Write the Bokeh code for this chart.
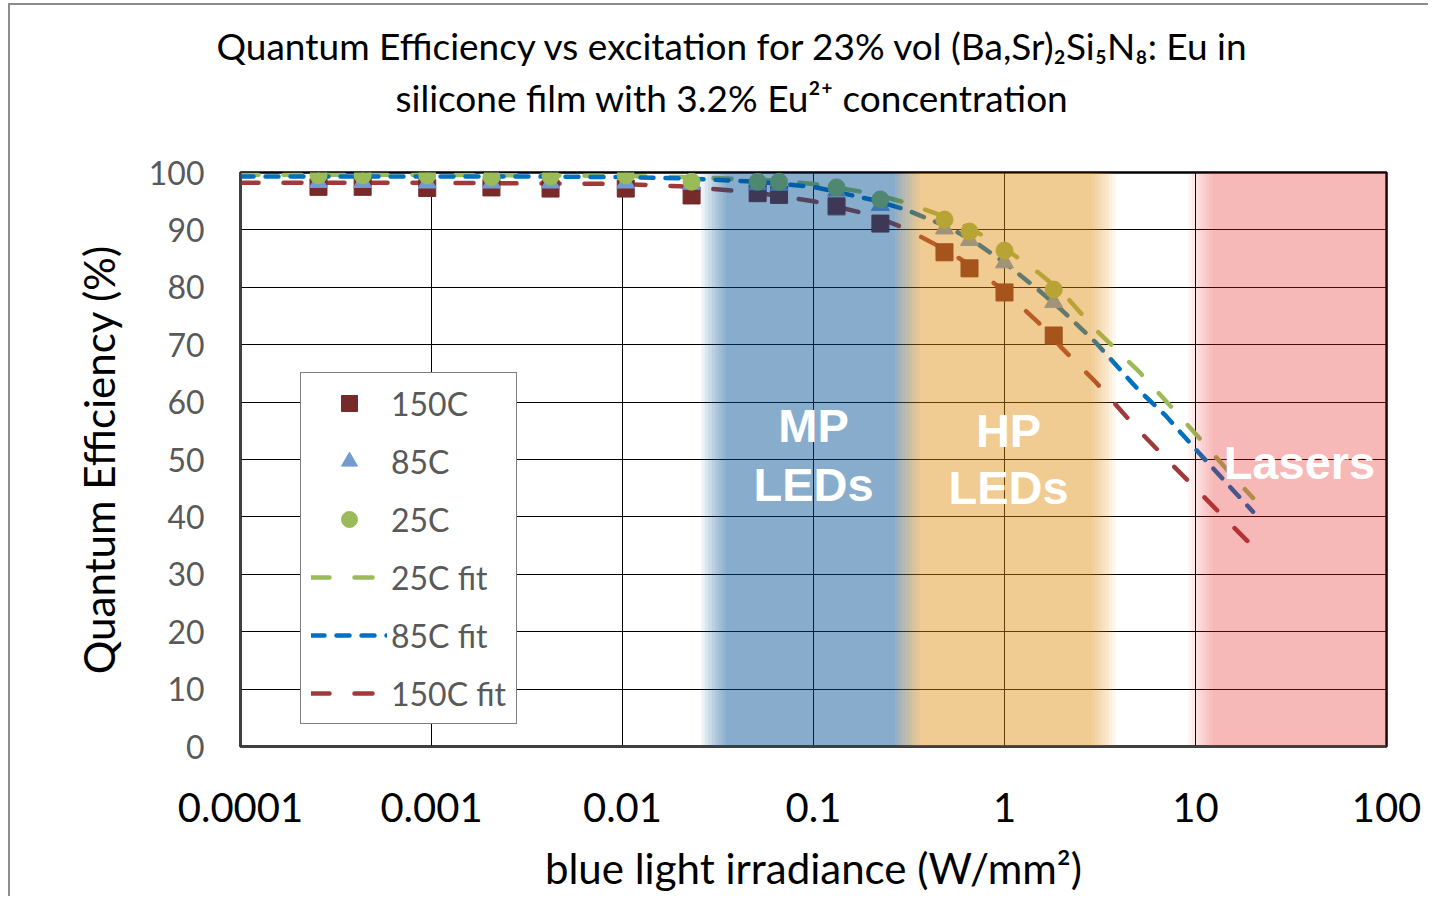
import numpy as np
from bokeh.plotting import figure
from bokeh.models import (Range1d, FixedTicker, PrintfTickFormatter, Legend,
                          LegendItem, Label, Title)
from bokeh.embed import file_html
from bokeh.resources import INLINE

# ---------------- data ----------------
irradiance = [2.56e-4, 4.36e-4, 9.5e-4, 2.06e-3, 4.2e-3, 0.0104, 0.023,
              0.051, 0.066, 0.132, 0.224, 0.485, 0.656, 1.0, 1.81]
qe_150C = [97.5, 97.5, 97.3, 97.4, 97.2, 97.2, 96.0, 96.4, 96.1, 94.1,
           91.1, 86.1, 83.3, 79.1, 71.6]
qe_85C = [98.3, 98.3, 98.2, 98.2, 98.2, 98.2, 98.0, 97.9, 97.8, 96.8,
          94.3, 90.2, 88.2, 84.3, 77.4]
qe_25C = [99.5, 99.5, 99.5, 99.2, 99.3, 99.5, 98.4, 98.4, 98.4, 97.4,
          95.3, 91.8, 89.7, 86.4, 79.6]

irradiance_fit = [1e-4, 3e-4, 1e-3, 3e-3, 0.01, 0.02, 0.05, 0.1, 0.2, 0.3,
                  0.5, 0.7, 1, 1.5, 2, 3, 5, 7, 10, 15, 20]
fit_25C = [99.6, 99.6, 99.6, 99.5, 99.4, 99.2, 98.8, 98.0, 96.4, 94.8,
           92.2, 89.8, 86.8, 82.6, 79.2, 72.6, 65.5, 60.2, 54.5, 47.8, 43.3]
fit_85C = [99.3, 99.3, 99.3, 99.3, 99.2, 99.0, 98.4, 97.5, 95.3, 93.6,
           90.6, 87.9, 84.3, 79.6, 76.0, 70.4, 62.2, 57.6, 51.8, 45.4, 40.9]
fit_150C = [98.2, 98.2, 98.2, 98.1, 98.0, 97.6, 96.5, 95.0, 92.6, 90.3,
            86.4, 83.3, 79.3, 73.9, 69.4, 63.5, 55.2, 50.2, 45.0, 39.0, 34.8]

x_ticks = [1e-4, 1e-3, 1e-2, 1e-1, 1, 10, 100]
y_ticks = [0, 10, 20, 30, 40, 50, 60, 70, 80, 90, 100]

band_names = [["MP", "LEDs"], ["HP", "LEDs"], ["Lasers"]]
band_ranges = [(0.030, 0.31), (0.31, 3.3), (10.6, 130)]

title_lines = ["Quantum Efficiency vs excitation for 23% vol (Ba,Sr)\u2082Si\u2085N\u2088: Eu in",
               "silicone film with 3.2% Eu\u00b2\u207a concentration"]

FONT = "Lato"

# ---------------- figure ----------------
p = figure(x_axis_type="log", x_range=Range1d(1e-4, 100), y_range=Range1d(0, 100),
           frame_width=1146, frame_height=574,
           min_border_left=230, min_border_right=42,
           min_border_top=167, min_border_bottom=150,
           output_backend="svg", toolbar_location=None)
p.styles = {"border-top": "2px solid #8c8c8c", "border-left": "2px solid #8c8c8c",
            "margin-left": "8px", "margin-top": "3px"}
p.background_fill_color = "white"
p.border_fill_color = "white"
p.outline_line_color = "black"
p.outline_line_width = 2.5

# grid
for g in (p.xgrid, p.ygrid):
    g.grid_line_color = "black"
    g.grid_line_width = 1
    g.grid_line_alpha = 1.0
p.xgrid.minor_grid_line_color = None

# axes
p.xaxis.ticker = FixedTicker(ticks=x_ticks)
p.xaxis.formatter = PrintfTickFormatter(format="%g")
p.yaxis.ticker = FixedTicker(ticks=y_ticks)
for ax in (p.xaxis[0], p.yaxis[0]):
    ax.major_tick_line_color = None
    ax.minor_tick_line_color = None
    ax.axis_line_color = "#404040"
    ax.axis_line_width = 2
    ax.major_label_text_font = FONT
    ax.axis_label_text_font = FONT
    ax.axis_label_text_font_style = "normal"
    ax.axis_label_text_color = "black"
    ax.axis_label_text_font_size = "42px"

p.xaxis.major_label_text_font_size = "40px"
p.xaxis.major_label_text_color = "black"
p.xaxis.major_label_standoff = 40
p.xaxis.axis_label = "blue light irradiance (W/mm\u00b2)"
p.xaxis.axis_label_standoff = 18

p.yaxis.major_label_text_font_size = "32px"
p.yaxis.major_label_standoff = 30
p.yaxis.major_label_text_color = "#595959"
p.yaxis.axis_label = "Quantum Efficiency (%)"
p.yaxis.axis_label_standoff = 22

# title: two lines (second line nearest the plot), centred over the whole chart
p.add_layout(Title(text=title_lines[1], align="left", offset=155, text_font=FONT,
                   text_font_size="37px", text_font_style="normal",
                   text_color="black", standoff=105), "above")
p.add_layout(Title(text=title_lines[0], align="left", offset=-24, text_font=FONT,
                   text_font_size="37px", text_font_style="normal",
                   text_color="black", standoff=-95), "above")

# fit lines
r_f25 = p.line(irradiance_fit, fit_25C, line_color="#9bbb59", line_width=4.5,
               line_dash="18 25", line_cap="round")
r_f85 = p.line(irradiance_fit, fit_85C, line_color="#0070c0", line_width=4.5,
               line_dash="13 12", line_cap="round")
r_f150 = p.line(irradiance_fit, fit_150C, line_color="#a03a3a", line_width=4.5,
                line_dash="18 25", line_cap="round")

# measured points
r_150 = p.scatter(irradiance, qe_150C, marker="square", size=17,
                  fill_color="#782a2a", line_color="#782a2a")
r_85 = p.scatter(irradiance, qe_85C, marker="triangle", size=18,
                 fill_color="#739bd0", line_color="#739bd0")
r_25 = p.scatter(irradiance, qe_25C, marker="circle", size=17,
                 fill_color="#9bbb59", line_color="#9bbb59")

# translucent excitation bands drawn over the data, with soft edges
band_colors = ["#005199", "#e2870f", "#f02832"]
band_alphas = [0.46, 0.45, 0.33]
fade = 0.13   # decades
n_layers = 8
for (lo, hi), col, a in zip(band_ranges, band_colors, band_alphas):
    a_s = 1 - (1 - a) ** (1.0 / n_layers)
    llo, lhi = np.log10(lo), np.log10(hi)
    lefts = [llo - fade / 2 + i * fade / (n_layers - 1) for i in range(n_layers)]
    rights = [lhi + fade / 2 - i * fade / (n_layers - 1) for i in range(n_layers)]
    p.quad(left=[10 ** v for v in lefts], right=[10 ** v for v in rights],
           bottom=0, top=100, fill_color=col, fill_alpha=a_s, line_color=None)

# band labels
band_label_pos = [(0.1, [55.9, 45.6]), (1.05, [55.0, 45.1]), (35, [49.5])]
for names, (bx, bys) in zip(band_names, band_label_pos):
    for name, by in zip(names, bys):
        p.add_layout(Label(x=bx, y=by, text=name, text_align="center",
                           text_baseline="middle", text_color="white",
                           text_font="Liberation Sans", text_font_style="bold",
                           text_font_size="47px"))

# legend
legend = Legend(items=[
    LegendItem(label="150C", renderers=[r_150]),
    LegendItem(label="85C", renderers=[r_85]),
    LegendItem(label="25C", renderers=[r_25]),
    LegendItem(label="25C fit", renderers=[r_f25]),
    LegendItem(label="85C fit", renderers=[r_f85]),
    LegendItem(label="150C fit", renderers=[r_f150]),
], location=(60, 22))
legend.label_text_font = FONT
legend.label_text_font_size = "32px"
legend.label_text_color = "#595959"
legend.glyph_width = 76
legend.glyph_height = 40
legend.label_height = 40
legend.spacing = 18
legend.padding = 10
legend.margin = 0
legend.label_standoff = 4
legend.border_line_color = "black"
legend.border_line_width = 1
legend.background_fill_color = "white"
legend.background_fill_alpha = 1.0
p.add_layout(legend)

open("out.html", "w").write(file_html(p, INLINE))
